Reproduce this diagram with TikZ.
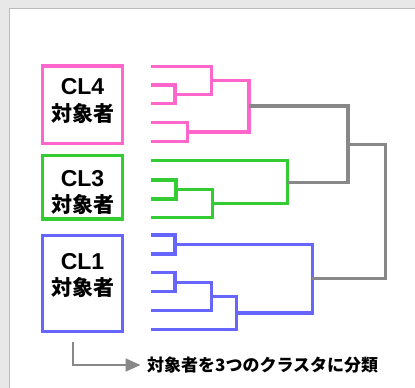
\documentclass[tikz,border=0pt]{standalone}
\usepackage{fontspec}
\setmainfont{Liberation Sans}
\newfontfamily\jp{Noto Sans CJK JP}
\usetikzlibrary{arrows.meta}
\definecolor{pk}{HTML}{FF66CC}
\definecolor{gr}{HTML}{33CC33}
\definecolor{bl}{HTML}{6666FF}
\definecolor{gy}{HTML}{888888}
\definecolor{bgc}{HTML}{E8E8E8}
\definecolor{pnl}{HTML}{BBBBBB}
\begin{document}
\begin{tikzpicture}[x=1pt,y=-1pt,
  cbox/.style={draw, line width=3.3pt, minimum width=80pt, inner sep=0pt, fill=white},
  cltxt/.style={font=\fontsize{23}{23}\selectfont\bfseries, inner sep=0pt},
  jptxt/.style={font=\jp\fontsize{21}{21}\selectfont\bfseries, inner sep=0pt},
  dend/.style={line width=3.3pt},
  graylink/.style={gy, line width=3.3pt}]
\useasboundingbox (0,0) rectangle (415,388);
\clip (0,0) rectangle (415,388);
\fill[bgc] (0,0) rectangle (415,388);
\draw[pnl, line width=1.6pt, fill=white] (9.5,8.5) rectangle (440,420);

% cluster boxes
\node[cbox, draw=pk, minimum height=77.3pt] (b4) at (82.3,104.7) {};
\node[cbox, draw=gr, minimum height=63.3pt] (b3) at (82.3,187.3) {};
\node[cbox, draw=bl, minimum height=96pt] (b1) at (82.3,283.7) {};
\node[cltxt] (t4a) at (82.5,87) {CL4};
\node[jptxt] (t4b) at (82.5,113.5) {対象者};
\node[cltxt] (t3a) at (82.5,179) {CL3};
\node[jptxt] (t3b) at (82.5,204.7) {対象者};
\node[cltxt] (t1a) at (82.5,261.5) {CL1};
\node[jptxt] (t1b) at (82.5,288) {対象者};

% pink dendrogram
\begin{scope}[dend, pk]
\draw (151,66.3) -| (211.7,94.2) -- (175,94.2);
\draw (151,85) -| (175,103.3) -- (151,103.3);
\draw (211.7,80.2) -| (249,132) -- (187.3,132);
\draw (151,122.3) -| (187.3,141.7) -- (151,141.7);
\end{scope}

% green dendrogram
\begin{scope}[dend, gr]
\draw (151,160.7) -| (287.3,203.4) -- (212.3,203.4);
\draw (151,180) -| (176,199) -- (151,199);
\draw (176,189.5) -| (212.3,217.3) -- (151,217.3);
\end{scope}

% blue dendrogram
\begin{scope}[dend, bl]
\draw (151,235) -| (175,254) -- (151,254);
\draw (175,244.5) -| (312.3,312.9) -- (236.7,312.9);
\draw (151,272.7) -| (175,291.7) -- (151,291.7);
\draw (175,282.2) -| (211.7,310.7) -- (151,310.7);
\draw (211.7,296.5) -| (236.7,329.3) -- (151,329.3);
\end{scope}

% gray links
\draw[graylink] (249,106.1) -| (348,182.2) -- (287.3,182.2);
\draw[graylink] (348,144.2) -| (385.3,278.7) -- (312.3,278.7);

% bottom arrow and label
\coordinate (arrstart) at (73.3,342);
\node[font=\jp\fontsize{17}{17}\selectfont\bfseries, inner sep=0pt, anchor=west] (lbl) at (147,365) {対象者を3つのクラスタに分類};
\draw[gy, line width=1.8pt, -{Triangle[length=15pt,width=13pt]}] (arrstart) |- (140.5,365);
\end{tikzpicture}
\end{document}
